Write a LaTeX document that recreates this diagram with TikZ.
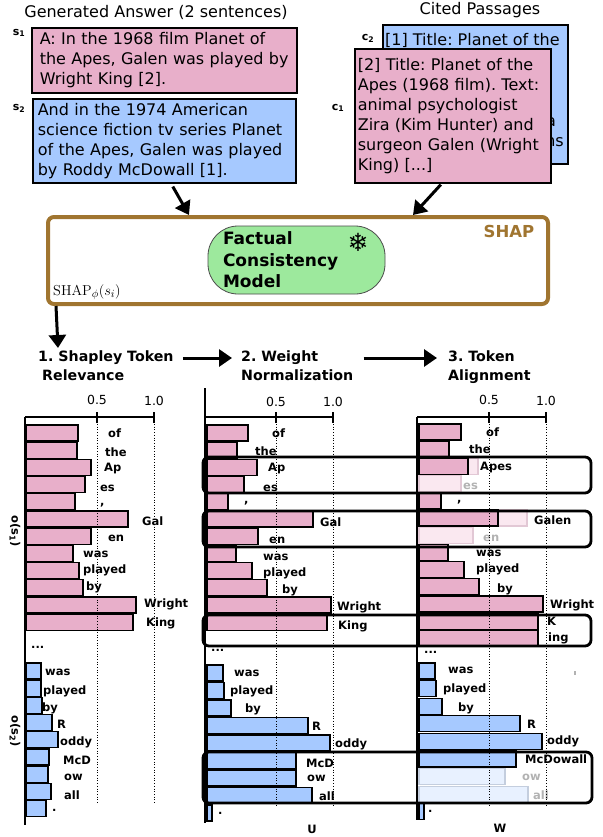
\documentclass[tikz,border=0pt]{standalone}
\usepackage[no-math]{fontspec}
\setmainfont{DejaVu Sans}
\usepackage{tikz}
\usetikzlibrary{arrows.meta, positioning}
\frenchspacing

\definecolor{pinkfill}{RGB}{232,175,202}
\definecolor{bluefill}{RGB}{166,201,255}
\definecolor{fcmgreen}{RGB}{157,233,157}
\definecolor{shapbrown}{RGB}{160,117,48}
\definecolor{pinkfade}{RGB}{250,232,240}
\definecolor{pinkedge}{RGB}{226,200,213}
\definecolor{bluefade}{RGB}{232,241,255}
\definecolor{blueedge}{RGB}{196,206,222}
\definecolor{fadetext}{RGB}{178,178,178}

\begin{document}
\begin{tikzpicture}[x=1pt, y=-1pt,
    sentbox/.style={rectangle, draw, line width=1.6pt, align=left, anchor=north west, font=\fontsize{16}{20}\selectfont},
    idx/.style={font=\bfseries\fontsize{11}{13}\selectfont},
    hdr/.style={align=left, anchor=north west, inner sep=2pt, font=\bfseries\fontsize{14.2}{19}\selectfont},
    flow/.style={draw, line width=3pt, -{Triangle[length=13pt, width=17pt]}},
    axis/.style={draw, line width=1.6pt},
    grid/.style={draw, dotted, line width=0.7pt},
    barpink/.style={draw, line width=1.2pt, fill=pinkfill},
    barblue/.style={draw, line width=1.2pt, fill=bluefill},
    fadepink/.style={draw=pinkedge, line width=1.2pt, fill=pinkfade},
    fadeblue/.style={draw=blueedge, line width=1.2pt, fill=bluefade},
    tok/.style={anchor=west, inner sep=0pt, font=\bfseries\fontsize{11.5}{13}\selectfont},
    tokfade/.style={tok, text=fadetext},
    ticklbl/.style={font=\fontsize{12.5}{14}\selectfont},
    hilite/.style={draw, line width=2.8pt, rounded corners=6pt}]

    \useasboundingbox (0,0) rectangle (602,837);

    % Generated answer
    \node[font=\fontsize{16}{20}\selectfont] (gatitle) at (156,12) {Generated Answer (2 sentences)};
    \node[sentbox, fill=pinkfill, minimum width=265, minimum height=65, inner xsep=8pt, text width=249pt] (s1) at (31,27)
        {A: In the 1968 film Planet of\\ the Apes, Galen was played by\\ Wright King [2].};
    \node[sentbox, fill=bluefill, minimum width=263, minimum height=84, inner xsep=5pt, text width=253pt] (s2) at (32,98)
        {And in the 1974 American\\ science fiction tv series Planet\\ of the Apes, Galen was played\\ by Roddy McDowall [1].};
    \node[idx] (s1lbl) at (19,33) {s\textsubscript{1}};
    \node[idx] (s2lbl) at (19,108) {s\textsubscript{2}};

    % Cited passages
    \node[font=\fontsize{16}{20}\selectfont] (cptitle) at (480,10) {Cited Passages};
    \node[sentbox, fill=bluefill, minimum width=185, minimum height=139] (c2) at (382,24) {};
    \node[anchor=west, inner sep=0pt, font=\fontsize{16}{20}\selectfont] (c2head) at (385,40) {[1] Title: Planet of the};
    \node[anchor=east, inner sep=0pt, font=\fontsize{16}{20}\selectfont] (c2rest1) at (556,122) {a};
    \node[anchor=east, inner sep=0pt, font=\fontsize{16}{20}\selectfont] (c2rest2) at (564,142) {ns};
    \node[sentbox, fill=pinkfill, minimum width=196, minimum height=134, inner xsep=3pt, text width=190pt] (c1) at (354,48)
        {[2] Title: Planet of the\\ Apes (1968 film). Text:\\ animal psychologist\\ Zira (Kim Hunter) and\\ surgeon Galen (Wright\\ King) [...]};
    \node[idx] (c2lbl) at (368,38) {c\textsubscript{2}};
    \node[idx] (c1lbl) at (338,108) {c\textsubscript{1}};

    % SHAP block
    \node[draw=shapbrown, line width=4pt, rounded corners=6pt, fill=white, minimum width=500, minimum height=87] (shap) at (298,260.5) {};
    \node[draw=black!70, line width=0.8pt, fill=fcmgreen, rounded corners=30pt, minimum width=177, minimum height=68,
        inner xsep=15pt, text width=147pt, align=left, font=\bfseries\fontsize{17}{21.5}\selectfont] (fcm) at (296.5,260)
        {Factual\\ Consistency\\ Model};
    \node[font=\fontsize{25}{25}\selectfont] (frozen) at (358,242) {❄};
    \node[text=shapbrown, font=\bfseries\fontsize{16.5}{18}\selectfont] (shaptag) at (509,231) {SHAP};
    \node[anchor=base west, inner sep=0pt, font=\fontsize{15.5}{17}\selectfont] (shapfn) at (53,295) {$\mathrm{SHAP}_\phi(s_i)$};

    \coordinate (in1) at (189,215);
    \coordinate (in2) at (413,215);
    \coordinate (out1) at (58,348);
    \path[flow] ([xshift=8.5pt, yshift=-3pt]s2.south) -- (in1);
    \path[flow] ([xshift=-12pt, yshift=-1pt]c1.south) -- (in2);
    \path[flow] ([xshift=10pt]shap.south west) -- (out1);

    % Steps
    \node[hdr] (hdr1) at (36,349) {1. Shapley Token\\\hspace*{4pt}Relevance};
    \node[hdr] (hdr2) at (239,349) {2. Weight\\Normalization};
    \node[hdr] (hdr3) at (446,349) {3. Token\\Alignment};
    \path[flow] ([xshift=7pt, yshift=-9pt]hdr1.north east) -- ([xshift=-7pt, yshift=-9pt]hdr2.north west);
    \path[flow] ([xshift=8pt, yshift=-9pt]hdr2.north east) -- ([xshift=-9pt, yshift=-9pt]hdr3.north west);

    % Chart 1: Shapley relevance
    \foreach \r/\lx/\ly/\t [count=\i from 0] in {78/108/433/of, 77/105/452/the, 91/104/468/Ap, 85/100/488/es,
        75/100/505/{,}, 128/142/521/Gal, 91/108/538/en, 73/83/554/was, 79/83/570/played, 83/86/587/by,
        136/144/604/Wright, 133/146/623/King}{
        \draw[barpink] (26,425+17.2*\i) rectangle (\r,441+17.2*\i);
        \node[tok] (ta\i) at (\lx,\ly) {\t};
    }
    \foreach \r/\lx/\ly/\t [count=\i from 0] in {41/45/672/was, 41/43/691/played, 42/42/708/by, 52/57/724/R,
        58/60/742/oddy, 49/63/760/McD, 48/64/777/ow, 51/64/795/all, 46/52/810/.}{
        \draw[barblue] (26,663+17.2*\i) rectangle (\r,679+17.2*\i);
        \node[tok] (tb\i) at (\lx,\ly) {\t};
    }
    \node[tok] (dotsa) at (31,647) {...};
    \draw[axis] (25,417) -- (25,825);
    \draw[axis] (25,417) -- (154,417);
    \draw[axis] (97,412) -- (97,423);
    \draw[axis] (154,412) -- (154,423);
    \draw[grid] (97,424) -- (97,803);
    \draw[grid] (154,424) -- (154,803);
    \node[ticklbl] (ha1) at (97,400) {0.5};
    \node[ticklbl] (ha2) at (154,401) {1.0};
    \node[rotate=-90, font=\bfseries\fontsize{11.5}{13}\selectfont] (ylab1) at (15,531) {o(s\textsubscript{1})};
    \node[rotate=-90, font=\bfseries\fontsize{11.5}{13}\selectfont] (ylab2) at (15,731) {o(s\textsubscript{2})};

    % Chart 2: weight normalization
    \foreach \r/\lx/\ly/\t [count=\i from 0] in {248/272/433/of, 237/255/451/the, 257/268/468/Ap, 244/263/488/es,
        228/244/503/{,}, 313/320/522/Gal, 258/269/540/en, 236/263/557/was, 252/263/573/played, 267/282/590/by,
        331/337/607/Wright, 327/338/626/King}{
        \draw[barpink] (207,425+17.2*\i) rectangle (\r,441+17.2*\i);
        \node[tok] (tc\i) at (\lx,\ly) {\t};
    }
    \foreach \r/\lx/\ly/\t [count=\i from 0] in {223/234/673/was, 224/230/691/played, 231/245/709/by, 308/312/726/R,
        330/335/744/oddy, 296/306/763/McD, 296/307/778/ow, 312/319/796/all, 212/218/813/.}{
        \draw[barblue] (207,665+17.5*\i) rectangle (\r,681+17.5*\i);
        \node[tok] (td\i) at (\lx,\ly) {\t};
    }
    \node[tok] (dotsb) at (211,650) {...};
    \draw[axis] (205,388) -- (205,823);
    \draw[axis] (205,417) -- (333,417);
    \draw[axis] (276,412) -- (276,423);
    \draw[axis] (333,412) -- (333,423);
    \draw[grid] (276,424) -- (276,807);
    \draw[grid] (333,424) -- (333,807);
    \node[ticklbl] (hb1) at (276,402) {0.5};
    \node[ticklbl] (hb2) at (333,402) {1.0};
    \node[tok, anchor=center] (ulbl) at (312,829) {U};

    % Chart 3: token alignment
    \draw[fadepink] (419,458.4) rectangle (478,474.4);
    \draw[fadepink] (419,510) rectangle (527,526);
    \foreach \r/\lx/\ly/\t/\bs/\ts [count=\i from 0] in {461/486/432/of/barpink/tok, 449/469/449/the/barpink/tok,
        468/480/467/Apes/barpink/tok, 461/463/486/es/fadepink/tokfade, 441/457/502/{,}/barpink/tok,
        498/534/520/Galen/barpink/tok, 473/483/538/en/fadepink/tokfade, 448/476/553/was/barpink/tok,
        464/476/569/played/barpink/tok, 479/497/589/by/barpink/tok, 543/550/605/Wright/barpink/tok,
        538/547/621/K/barpink/tok, 538/548/638/ing/barpink/tok}{
        \draw[\bs] (419,424+17.2*\i) rectangle (\r,440+17.2*\i);
        \node[\ts] (te\i) at (\lx,\ly) {\t};
    }
    \foreach \r/\lx/\ly/\t/\bs/\ts [count=\i from 0] in {435/448/670/was/barblue/tok, 436/443/689/played/barblue/tok,
        442/458/708/by/barblue/tok, 520/527/724/R/barblue/tok, 542/547/741/oddy/barblue/tok,
        516/525/759/McDowall/barblue/tok, 505/522/777/ow/fadeblue/tokfade, 528/533/795/all/fadeblue/tokfade,
        424/428/811/./barblue/tok}{
        \draw[\bs] (419,663+17.6*\i) rectangle (\r,679+17.6*\i);
        \node[\ts] (tf\i) at (\lx,\ly) {\t};
    }
    \node[tok] (dotsc) at (424,652) {...};
    \fill[fadetext] (574,671) rectangle (576,675);
    \draw[axis] (417,417) -- (417,820);
    \draw[axis] (417,417) -- (546,417);
    \draw[axis] (489,412) -- (489,423);
    \draw[axis] (546,412) -- (546,423);
    \draw[grid] (489,424) -- (489,807);
    \draw[grid] (546,424) -- (546,807);
    \node[ticklbl] (hc1) at (489,400) {0.5};
    \node[ticklbl] (hc2) at (546,401) {1.0};
    \node[tok, anchor=center] (wlbl) at (500,828) {W};

    % Aligned spans
    \draw[hilite] (203,457) rectangle (591,493);
    \draw[hilite] (203,511) rectangle (591,547);
    \draw[hilite] (203,615) rectangle (591,646);
    \draw[hilite] (203,752) rectangle (592,803);

\end{tikzpicture}
\end{document}
